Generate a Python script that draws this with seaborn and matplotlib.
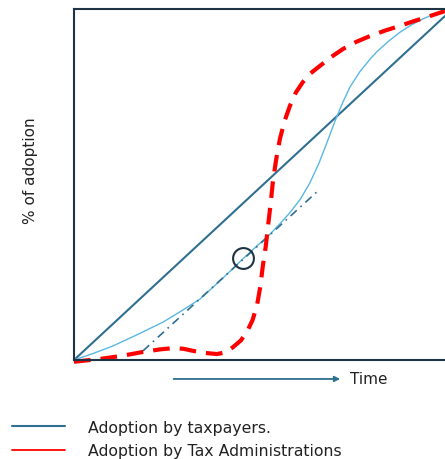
import matplotlib
matplotlib.use('Agg')
import matplotlib.pyplot as plt
from matplotlib.lines import Line2D
import seaborn as sns

# straight line: adoption by taxpayers
tax_x = [0, 100]
tax_y = [0, 98]

# light blue S-curve
s_x = [0, 5, 10.5, 17, 24, 29, 34, 39.4, 45.5, 49, 52.8, 55.5, 58.2, 61, 63.6, 66, 68.2, 70.4,
       72.5, 74.4, 77.1, 79.8, 81.7, 85, 87.9, 91, 94.1, 97, 100]
s_y = [0, 1.8, 4.0, 7.2, 10.8, 14.0, 17.4, 22.6, 28.8, 32.2, 35.8, 38.8, 42.0, 45.8, 50.5, 56.0,
       62.0, 68.2, 73.5, 77.8, 82.2, 85.7, 87.9, 91.0, 93.4, 95.5, 97.2, 98.5, 99.4]

# red dashed: adoption by tax administrations
adm_x = [0, 7.0, 13, 18.6, 23, 26.7, 29.5, 32.1, 35.5, 38.5, 41, 42.9, 45, 46.6, 48.1, 49.3, 50.2,
         50.9, 51.7, 52.3, 53.0, 53.6, 54.5, 55.5, 56.8, 58.2, 59.8, 61.7, 63.8, 66.3, 69.3, 72.5,
         76, 79.8, 84, 87.9, 91.5, 95.1, 100]
adm_y = [-0.5, 0.3, 1.2, 2.3, 3.0, 3.4, 3.2, 2.6, 2.0, 1.7, 2.2, 3.7, 5.6, 8.0, 11.3, 15.4, 20.8,
         26.8, 32.5, 38.2, 44.5, 50.7, 57.2, 63.0, 68.2, 72.4, 76.2, 79.2, 81.7, 83.8, 86.3, 88.6,
         90.6, 92.3, 93.9, 95.2, 96.5, 97.7, 99.4]

# dash-dot tangent
tan_x = [18.6, 66.3]
tan_y = [2.6, 48.7]

circle_x = [45.5]
circle_y = [29]

teal = '#2f6f8f'
sky = '#5ab7e2'
red = '#ff0000'
dark = '#1e3444'

sns.set_theme(style='white')
plt.rcParams['font.family'] = ['DejaVu Sans']

fig = plt.figure(figsize=(4.45, 4.6), dpi=100)
ax = fig.add_axes([0.1663, 0.2152, 0.8337, 0.7631])

sns.lineplot(x=tax_x, y=tax_y, color=teal, linewidth=1.5, ax=ax)
sns.lineplot(x=s_x, y=s_y, color=sky, linewidth=1.0, ax=ax, sort=False)
sns.lineplot(x=tan_x, y=tan_y, color=teal, linewidth=1.2, linestyle=(0, (5, 3, 1, 3)), ax=ax)
sns.lineplot(x=adm_x, y=adm_y, color=red, linewidth=3, linestyle=(0, (4, 2.4)), ax=ax,
             sort=False, clip_on=False)
ax.plot(circle_x, circle_y, marker='o', markersize=15, markerfacecolor='none',
        markeredgecolor=dark, markeredgewidth=1.5, linestyle='none')

ax.set_xlim(0, 100)
ax.set_ylim(0, 100)
ax.set_xticks([])
ax.set_yticks([])
for side in ['left', 'top', 'bottom']:
    ax.spines[side].set_color(dark)
    ax.spines[side].set_linewidth(1.5)
ax.spines['right'].set_visible(False)

ax.set_ylabel('% of adoption', fontsize=11, color='#222222')
ax.yaxis.set_label_coords(-0.097, 0.541)

# time arrow below the axis
ax.annotate('', xy=(72.5, -5.4), xytext=(26.1, -5.4), xycoords='data',
            arrowprops=dict(arrowstyle='-|>', color=teal, lw=1.3, mutation_scale=8),
            annotation_clip=False)
ax.text(74.5, -5.4, 'Time', fontsize=11, color='#222222', va='center', ha='left',
        clip_on=False)

handles = [Line2D([], [], color=teal, linewidth=1.5),
           Line2D([], [], color=red, linewidth=1.3)]
fig.legend(handles, ['Adoption by taxpayers.', 'Adoption by Tax Administrations'],
           loc='upper left', bbox_to_anchor=(0.012, 0.099), frameon=False, fontsize=11.3,
           handlelength=3.4, handletextpad=1.45, labelspacing=0.55, borderaxespad=0,
           labelcolor='#222222')

fig.savefig('out.png', dpi=100)
